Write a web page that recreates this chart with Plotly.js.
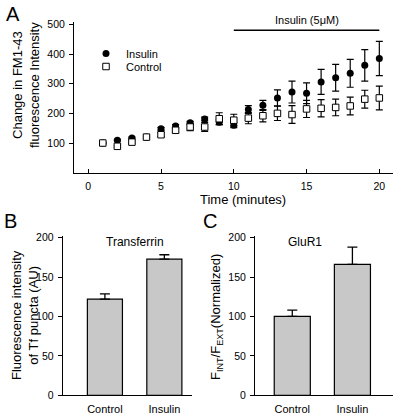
<!DOCTYPE html>
<html>
<head>
<meta charset="utf-8">
<script src="https://cdn.plot.ly/plotly-3.0.1.min.js"></script>
<style>html,body{margin:0;padding:0;background:#fff;}#chart{width:400px;height:416px;}</style>
</head>
<body>
<div id="chart"></div>
<script>
// Panel A data: time course of FM1-43 fluorescence change
const timeMin = [1, 2, 3, 4, 5, 6, 7, 8, 9, 10, 11, 12, 13, 14, 15, 16, 17, 18, 19, 20];
const insulinFM = [100, 109, 117, 120, 148, 157, 168, 181, 170, 160, 213, 227, 252, 272, 268, 306, 320, 335, 362, 385];
const insulinFMErr = [0, 3, 3, 3, 5, 5, 5, 6, 8, 8, 13, 17, 27, 37, 35, 42, 45, 47, 53, 58];
const controlFM = [100, 89, 103, 120, 128, 143, 154, 154, 182, 177, 184, 192, 200, 196, 215, 217, 220, 225, 248, 252];
const controlFMErr = [3, 3, 4, 4, 6, 6, 12, 15, 20, 20, 19, 21, 24, 30, 29, 29, 28, 30, 30, 40];
const timeTicks = [0, 5, 10, 15, 20];
const fmTicks = [100, 200, 300, 400, 500];
const insulinPeriod = [10, 20];
const insulinPeriodLevel = 480;

// Panels B and C data
const barCategories = ['Control', 'Insulin'];
const transferrinValues = [122, 172.6];
const transferrinErr = [6.5, 5.6];
const gluR1Values = [100, 166];
const gluR1Err = [8, 22];
const barTicks = [0, 50, 100, 150, 200];

const FONT = 'Liberation Sans, Arial, Helvetica, sans-serif';
const H = 416, W = 400;
const px = v => v / W;
const py = v => 1 - v / H;

const traces = [
  {
    x: timeMin, y: insulinFM, type: 'scatter', mode: 'markers', name: 'Insulin',
    xaxis: 'x', yaxis: 'y', legend: 'legend',
    marker: {symbol: 'circle', size: 7, color: '#000'},
    error_y: {type: 'data', array: insulinFMErr, visible: true, color: '#000', thickness: 1.2, width: 3.5}
  },
  {
    x: timeMin, y: controlFM, type: 'scatter', mode: 'markers', name: 'Control',
    xaxis: 'x', yaxis: 'y', legend: 'legend2',
    marker: {symbol: 'square', size: 6.5, color: '#fff', line: {color: '#000', width: 1}},
    error_y: {type: 'data', array: controlFMErr, visible: true, color: '#000', thickness: 1.2, width: 3.5}
  },
  {
    x: barCategories, y: transferrinValues, type: 'bar', name: 'Transferrin', showlegend: false,
    xaxis: 'x2', yaxis: 'y2', width: 0.59,
    marker: {color: '#c8c8c8', line: {color: '#000', width: 1.2}},
    error_y: {type: 'data', symmetric: false, array: transferrinErr, arrayminus: [0, 0], visible: true, color: '#000', thickness: 1.3, width: 5}
  },
  {
    x: barCategories, y: gluR1Values, type: 'bar', name: 'GluR1', showlegend: false,
    xaxis: 'x3', yaxis: 'y3', width: 0.6,
    marker: {color: '#c8c8c8', line: {color: '#000', width: 1.2}},
    error_y: {type: 'data', symmetric: false, array: gluR1Err, arrayminus: [0, 0], visible: true, color: '#000', thickness: 1.3, width: 5}
  }
];

const axCommon = {
  showline: true, linecolor: '#000', linewidth: 1, showgrid: false, zeroline: false,
  tickcolor: '#000', ticklen: 4, tickwidth: 1, tickfont: {family: FONT, size: 10.5, color: '#000'}
};

const layout = {
  width: W, height: H,
  margin: {l: 0, r: 0, t: 0, b: 0},
  paper_bgcolor: '#fff', plot_bgcolor: 'rgba(0,0,0,0)',
  font: {family: FONT, color: '#000'},
  showlegend: true,
  legend: {x: px(86), y: py(39), xanchor: 'left', yanchor: 'top', bgcolor: 'rgba(0,0,0,0)', borderwidth: 0,
           font: {family: FONT, size: 11, color: '#000'}, tracegroupgap: 0},
  legend2: {x: px(86), y: py(52), xanchor: 'left', yanchor: 'top', bgcolor: 'rgba(0,0,0,0)', borderwidth: 0,
            font: {family: FONT, size: 11, color: '#000'}, tracegroupgap: 0},
  xaxis: Object.assign({}, axCommon, {
    domain: [px(74), px(393)], range: [-0.98, 20.94], tickvals: timeTicks, ticks: 'inside',
    anchor: 'y', ticklabelstandoff: 4
  }),
  yaxis: Object.assign({}, axCommon, {
    domain: [py(172.7), py(21.7)], range: [0, 509], tickvals: fmTicks, ticks: 'outside', anchor: 'x',
    ticklabelstandoff: 2
  }),
  xaxis2: Object.assign({}, axCommon, {
    domain: [px(62.7), px(191.7)], type: 'category', range: [-0.71, 1.46], ticks: '', anchor: 'y2',
    tickfont: {family: FONT, size: 11, color: '#000'}, ticklabelstandoff: 3
  }),
  yaxis2: Object.assign({}, axCommon, {
    domain: [py(395.3), py(236)], range: [0, 202], tickvals: barTicks, ticks: 'outside', anchor: 'x2',
    ticklabelstandoff: 2
  }),
  xaxis3: Object.assign({}, axCommon, {
    domain: [px(255), px(392.7)], type: 'category', range: [-0.62, 1.67], ticks: '', anchor: 'y3',
    tickfont: {family: FONT, size: 11, color: '#000'}, ticklabelstandoff: 3
  }),
  yaxis3: Object.assign({}, axCommon, {
    domain: [py(395.3), py(236)], range: [0, 202], tickvals: barTicks, ticks: 'outside', anchor: 'x3',
    ticklabelstandoff: 2
  }),
  shapes: [
    {type: 'line', xref: 'x', yref: 'y', x0: insulinPeriod[0], x1: insulinPeriod[1],
     y0: insulinPeriodLevel, y1: insulinPeriodLevel, line: {color: '#000', width: 1.5}}
  ],
  annotations: [
    {text: 'Insulin (5\u03BCM)', xref: 'x', yref: 'paper', x: (insulinPeriod[0] + insulinPeriod[1]) / 2, y: py(20.5),
     xanchor: 'center', yanchor: 'middle', showarrow: false, font: {family: FONT, size: 11, color: '#000'}},
    {text: 'A', xref: 'paper', yref: 'paper', x: px(12.5), y: py(14), xanchor: 'center', yanchor: 'middle',
     showarrow: false, font: {family: FONT, size: 20, color: '#000'}},
    {text: 'B', xref: 'paper', yref: 'paper', x: px(10.5), y: py(221), xanchor: 'center', yanchor: 'middle',
     showarrow: false, font: {family: FONT, size: 20, color: '#000'}},
    {text: 'C', xref: 'paper', yref: 'paper', x: px(209.5), y: py(221), xanchor: 'center', yanchor: 'middle',
     showarrow: false, font: {family: FONT, size: 20, color: '#000'}},
    {text: 'Change in FM1-43<br>fluorescence Intensity', xref: 'paper', yref: 'paper', x: px(26), y: py(85),
     xanchor: 'center', yanchor: 'middle', textangle: -90, showarrow: false, font: {family: FONT, size: 13, color: '#000'}},
    {text: 'Time (minutes)', xref: 'paper', yref: 'paper', x: px(243), y: py(199),
     xanchor: 'center', yanchor: 'middle', showarrow: false, font: {family: FONT, size: 13, color: '#000'}},
    {text: 'Fluorescence intensity<br>of Tf puncta (AU)', xref: 'paper', yref: 'paper', x: px(25), y: py(315),
     xanchor: 'center', yanchor: 'middle', textangle: -90, showarrow: false, font: {family: FONT, size: 13, color: '#000'}},
    {text: 'F<sub>INT</sub>/F<sub>EXT</sub>(Normalized)', xref: 'paper', yref: 'paper', x: px(216), y: py(317),
     xanchor: 'center', yanchor: 'middle', textangle: -90, showarrow: false, font: {family: FONT, size: 13, color: '#000'}},
    {text: 'Transferrin', xref: 'paper', yref: 'paper', x: px(135), y: py(242),
     xanchor: 'center', yanchor: 'middle', showarrow: false, font: {family: FONT, size: 12, color: '#000'}},
    {text: 'GluR1', xref: 'paper', yref: 'paper', x: px(305), y: py(242),
     xanchor: 'center', yanchor: 'middle', showarrow: false, font: {family: FONT, size: 12, color: '#000'}}
  ]
};

Plotly.newPlot('chart', traces, layout, {staticPlot: true, displayModeBar: false});
</script>
</body>
</html>
